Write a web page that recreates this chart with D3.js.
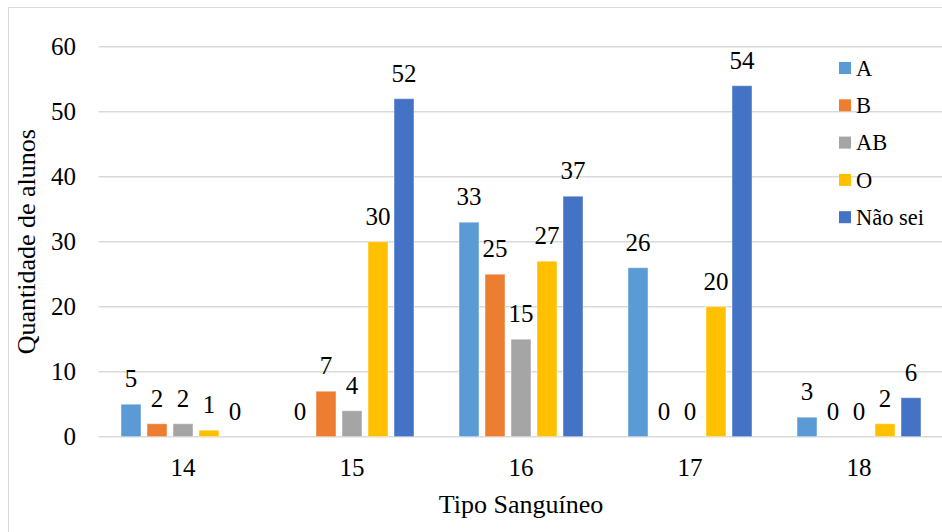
<!DOCTYPE html>
<html><head><meta charset="utf-8">
<script src="https://cdn.jsdelivr.net/npm/d3@7"></script>
<style>text{font-family:"Liberation Serif","Times New Roman",Tinos !important}</style>
</head><body style="margin:0"><svg id="c" width="942" height="532" font-family="Liberation Serif"></svg>
<script>
const categories = ["14","15","16","17","18"];
const seriesNames = ["A","B","AB","O","Não sei"];
const seriesA = [5,0,33,26,3];
const seriesB = [2,7,25,0,0];
const seriesAB = [2,4,15,0,0];
const seriesO = [1,30,27,20,2];
const seriesNS = [0,52,37,54,6];
const colors = ["#5B9BD5","#ED7D31","#A5A5A5","#FFC000","#4472C4"];
const yTicks = [0,10,20,30,40,50,60];
const allSeries = [seriesA,seriesB,seriesAB,seriesO,seriesNS];

const svg = d3.select("#c");
function txt(sel, size){ return sel.style("font-family",'"Liberation Serif", Tinos').attr("font-size",size).attr("fill","#000"); }

svg.append("rect").attr("x",8.5).attr("y",7.5).attr("width",1000).attr("height",1000)
  .attr("fill","#fff").attr("stroke","#d9d9d9").attr("stroke-width",1);

const L=98.5, R=943.5, T=46.7, B=436.7;
const x = d3.scaleBand().domain(categories).range([L,R]).paddingInner(0).paddingOuter(0);
const xs = d3.scaleBand().domain(seriesNames).range([0,124]).paddingInner(6/26);
const y = d3.scaleLinear().domain([0,60]).range([B,T]);

svg.append("g").selectAll("line").data(yTicks).join("line")
  .attr("x1",L).attr("x2",948).attr("y1",d=>y(d)).attr("y2",d=>y(d))
  .attr("stroke","#d9d9d9").attr("stroke-width",1.4);
txt(svg.append("g").selectAll("text").data(yTicks).join("text")
  .attr("x",76).attr("y",d=>y(d)).attr("dy","0.34em").attr("text-anchor","end"),25).text(d=>d);

const groups = svg.append("g").selectAll("g").data(categories).join("g")
  .attr("transform",c=>`translate(${x(c)+x.bandwidth()/2-62},0)`);
groups.each(function(c,ci){
  const g=d3.select(this);
  seriesNames.forEach((s,si)=>{
    const v=allSeries[si][ci];
    if(v>0){
      g.append("rect").attr("x",xs(s)).attr("width",xs.bandwidth())
        .attr("y",y(v)).attr("height",y(0)-y(v))
        .attr("fill",colors[si]).attr("stroke","#fff").attr("stroke-opacity",0.45).attr("stroke-width",1);
    }
    txt(g.append("text").attr("x",xs(s)+xs.bandwidth()/2).attr("y",y(v)-17)
      .attr("text-anchor","middle"),25).text(v);
  });
});
txt(svg.append("g").selectAll("text").data(categories).join("text")
  .attr("x",c=>x(c)+x.bandwidth()/2).attr("y",476).attr("text-anchor","middle"),25).text(c=>c);
txt(svg.append("text").attr("x",(L+R)/2).attr("y",513).attr("text-anchor","middle"),26).text("Tipo Sanguíneo");
txt(svg.append("text").attr("transform",`translate(35,${(T+B)/2}) rotate(-90)`).attr("text-anchor","middle"),26)
  .text("Quantidade de alunos");
const lg = svg.append("g").selectAll("g").data(seriesNames).join("g")
  .attr("transform",(d,i)=>`translate(839,${68+i*37.3})`);
lg.append("rect").attr("x",0).attr("y",-6).attr("width",12).attr("height",12).attr("fill",(d,i)=>colors[i]);
txt(lg.append("text").attr("x",17).attr("y",0).attr("dy","0.35em"),22.5).text(d=>d);
</script></body></html>
